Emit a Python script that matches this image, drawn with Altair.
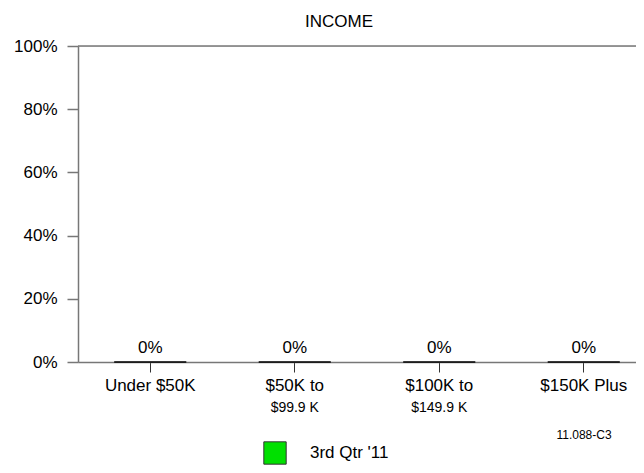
import altair as alt
import pandas as pd

categories = ["Under $50K", "$50K to", "$100K to", "$150K Plus"]
sublabels = ["", "$99.9 K", "$149.9 K", ""]
values = [0.0, 0.0, 0.0, 0.0]
series = "3rd Qtr '11"
y_ticks = [0, 0.2, 0.4, 0.6, 0.8, 1.0]

FONT = "Liberation Sans"

df = pd.DataFrame({
    "cat": categories,
    "sub": sublabels,
    "value": values,
    "series": [series] * len(categories),
})

xscale = alt.Scale(domain=categories, range=[0, 578], paddingInner=0, paddingOuter=0)
yscale = alt.Scale(domain=[0, 1], nice=False)

base = alt.Chart(df)

bars = base.mark_bar(size=72, stroke="black", strokeWidth=1).encode(
    x=alt.X("cat:N", scale=xscale, sort=categories,
            axis=alt.Axis(title=None, labelAngle=0, labelFontSize=17, labelFont=FONT,
                          labelColor="black", tickSize=10, tickColor="#333",
                          domainColor="#777", domainWidth=1.5, labelPadding=5)),
    y=alt.Y("value:Q", scale=yscale,
            axis=alt.Axis(title=None, values=y_ticks, format=".0%", grid=False,
                          labelFontSize=17, labelFont=FONT, labelColor="black",
                          tickSize=11, tickColor="#777", domainColor="#777",
                          domainWidth=1.5, tickWidth=1.5, labelPadding=10)),
    color=alt.Color("series:N", scale=alt.Scale(range=["#00E000"]),
                    legend=alt.Legend(title=None, orient="none", legendX=185, legendY=395,
                                      symbolType="square", symbolSize=500,
                                      symbolStrokeColor="#333", symbolStrokeWidth=1,
                                      labelFontSize=17, labelFont=FONT, labelColor="black",
                                      labelOffset=23, padding=0)),
)

value_labels = base.mark_text(fontSize=17, font=FONT, color="black", baseline="middle", dy=-14).encode(
    x=alt.X("cat:N", scale=xscale, sort=categories),
    y=alt.Y("value:Q", scale=yscale),
    text=alt.Text("value:Q", format=".0%"),
)

sub_labels = base.mark_text(fontSize=14, font=FONT, color="black", baseline="middle").encode(
    x=alt.X("cat:N", scale=xscale, sort=categories),
    y=alt.value(362),
    text="sub:N",
)

top_rule = alt.Chart(pd.DataFrame({"top": [1.0]})).mark_rule(color="#777", strokeWidth=1.5).encode(
    y=alt.Y("top:Q", scale=yscale),
)

title_text = alt.Chart(pd.DataFrame({"t": ["INCOME"]})).mark_text(
    fontSize=17, font=FONT, color="black", baseline="middle").encode(
    x=alt.value(261), y=alt.value(-24), text="t:N")

code_text = alt.Chart(pd.DataFrame({"t": ["11.088-C3"]})).mark_text(
    fontSize=12, font=FONT, color="black", baseline="middle").encode(
    x=alt.value(506), y=alt.value(389), text="t:N")

chart = alt.layer(bars, top_rule, value_labels, sub_labels, title_text, code_text).properties(
    width=558, height=316,
    autosize=alt.AutoSizeParams(type="none"),
    padding={"left": 70, "top": 38, "right": 0, "bottom": 103},
).configure_view(stroke=None).configure(background="white")

chart.save("out.html", embed_options={"renderer": "svg", "actions": False})
